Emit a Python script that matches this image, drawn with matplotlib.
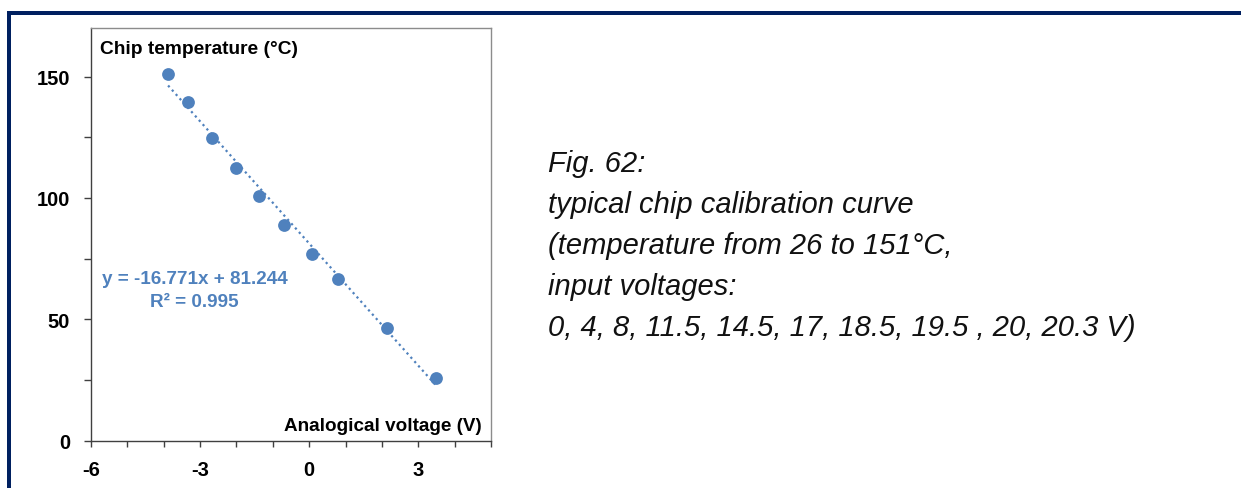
import matplotlib
matplotlib.use("Agg")
import matplotlib.pyplot as plt
from matplotlib.patches import Rectangle
from matplotlib.ticker import MultipleLocator

plt.rcParams["axes.unicode_minus"] = False

# Calibration measurements: analogical voltage (V) vs chip temperature (°C)
volts = [-3.88, -3.33, -2.66, -2.00, -1.39, -0.69, 0.09, 0.78, 2.15, 3.48]
temps = [151.0, 139.5, 124.8, 112.4, 101.0, 88.8, 77.0, 66.6, 46.3, 26.0]

# Linear fit reported on the chart
slope = -16.771
intercept = 81.244
r_squared = 0.995

x_ticks = [-6, -3, 0, 3]
y_ticks = [0, 50, 100, 150]

caption_lines = [
    "Fig. 62:",
    "typical chip calibration curve",
    "(temperature from 26 to 151°C,",
    "input voltages:",
    "0, 4, 8, 11.5, 14.5, 17, 18.5, 19.5 , 20, 20.3 V)",
]

NARROW = ["Liberation Sans Narrow", "Liberation Sans", "DejaVu Sans"]
REGULAR = ["Liberation Sans", "DejaVu Sans"]
BLUE = "#4f81bd"
NAVY = "#002060"

W, H = 1241, 489
fig = plt.figure(figsize=(W / 100, H / 100), dpi=100)
fig.patch.set_facecolor("white")

# navy frame along the top and left edges
fig.add_artist(Rectangle((7 / W, 0), 4 / W, (H - 12) / H, transform=fig.transFigure,
                         facecolor=NAVY, edgecolor="none"))
fig.add_artist(Rectangle((7 / W, (H - 16) / H), (W - 7) / W, 4 / H, transform=fig.transFigure,
                         facecolor=NAVY, edgecolor="none"))

ax_l, ax_r, ax_t, ax_b = 91, 491, 29, 441.7
ax = fig.add_axes([ax_l / W, (H - ax_b) / H, (ax_r - ax_l) / W, (ax_b - ax_t) / H])

ax.set_xlim(-6, 5)
ax.set_ylim(0, 170)

# trendline over the measured range
x0, x1 = min(volts), max(volts)
ax.plot([x0, x1], [slope * x0 + intercept, slope * x1 + intercept],
        linestyle=(0, (1, 1.6)), color=BLUE, linewidth=1.6, zorder=2)
ax.plot(volts, temps, "o", color=BLUE, markersize=9.2, markeredgewidth=0, zorder=3)

ax.xaxis.set_minor_locator(MultipleLocator(1))
ax.yaxis.set_minor_locator(MultipleLocator(25))
ax.set_xticks(x_ticks)
ax.set_yticks(y_ticks)

for side in ("top", "right"):
    ax.spines[side].set_color("#8c8c8c")
    ax.spines[side].set_linewidth(1.0)
for side in ("left", "bottom"):
    ax.spines[side].set_color("#404040")
    ax.spines[side].set_linewidth(1.0)

ax.tick_params(which="both", direction="out", color="#404040", width=1.0)
ax.tick_params(axis="y", which="both", length=5.0)
ax.tick_params(axis="x", which="both", length=4.5)
ax.tick_params(axis="y", which="major", pad=10)
ax.tick_params(axis="x", which="major", pad=9.5)

for lab in ax.get_xticklabels() + ax.get_yticklabels():
    lab.set_family(NARROW)
    lab.set_fontweight("bold")
    lab.set_fontsize(14.5)
    lab.set_color("black")

ax.text(0.0225, 0.94, "Chip temperature (°C)", transform=ax.transAxes,
        family=NARROW, fontweight="bold", fontsize=13.8, ha="left", va="baseline")
ax.text(0.978, 0.026, "Analogical voltage (V)", transform=ax.transAxes,
        family=NARROW, fontweight="bold", fontsize=13.6, ha="right", va="baseline")

eq_text = f"y = {slope:.3f}x + {intercept:.3f}\nR² = {r_squared:.3f}"
ax.text(0.259, 0.326, eq_text, transform=ax.transAxes, family=NARROW,
        fontweight="bold", fontsize=13.6, color=BLUE, ha="center", va="baseline",
        multialignment="center", linespacing=1.5)

for i, line in enumerate(caption_lines):
    fig.text(548 / W, (H - (171.7 + 41 * i)) / H, line, family=REGULAR,
             style="italic", fontsize=21, color="#111111", ha="left", va="baseline")

fig.savefig("out.png", dpi=100)
